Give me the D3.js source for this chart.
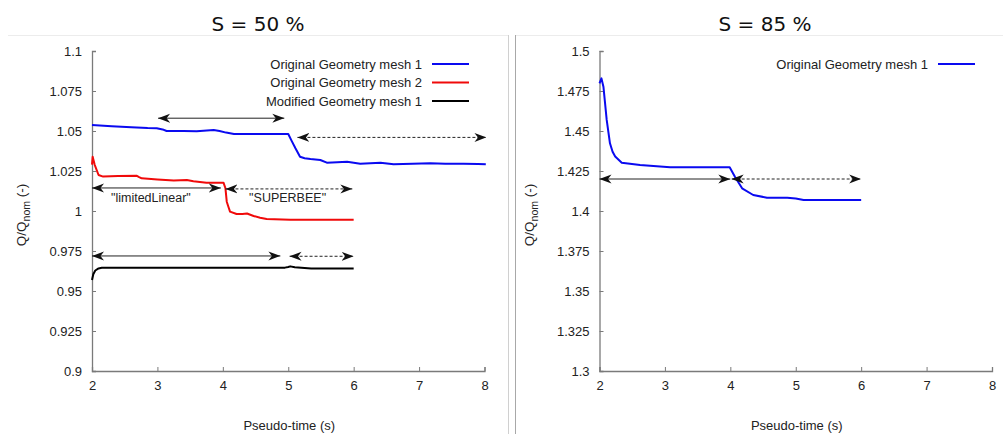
<!DOCTYPE html>
<html>
<head>
<meta charset="utf-8">
<script src="https://cdn.jsdelivr.net/npm/d3@7"></script>
<style>
  html, body { margin: 0; padding: 0; background: #fff; }
  svg { display: block; }
  text { font-family: "Liberation Sans", Arial, sans-serif; fill: #222; }
  .title { font-family: "DejaVu Sans", sans-serif; font-size: 20px; fill: #111; }
</style>
</head>
<body>
<svg id="chart" width="1003" height="434"></svg>
<script>
// ---------------- Data ----------------
const xTicks = [2, 3, 4, 5, 6, 7, 8];
const leftYTicks = [0.9, 0.925, 0.95, 0.975, 1, 1.025, 1.05, 1.075, 1.1];
const leftYTickLabels = ["0.9", "0.925", "0.95", "0.975", "1", "1.025", "1.05", "1.075", "1.1"];
const rightYTicks = [1.3, 1.325, 1.35, 1.375, 1.4, 1.425, 1.45, 1.475, 1.5];
const rightYTickLabels = ["1.3", "1.325", "1.35", "1.375", "1.4", "1.425", "1.45", "1.475", "1.5"];

const titles = ["S = 50 %", "S = 85 %"];
const seriesNames = ["Original Geometry mesh 1", "Original Geometry mesh 2", "Modified Geometry mesh 1"];
const seriesColors = ["#0a0af0", "#f00a0a", "#000000"];

// S = 50 %, Original Geometry mesh 1
const s50Mesh1X = [2.0, 2.3, 2.6, 2.85, 2.99, 3.08, 3.14, 3.4, 3.6, 3.86, 3.95, 4.05, 4.17, 4.5, 4.8, 5.0, 5.05, 5.11, 5.18, 5.25, 5.34, 5.49, 5.59, 5.75, 5.9, 6.1, 6.41, 6.61, 6.9, 7.17, 7.4, 7.68, 7.9, 8.02];
const s50Mesh1Y = [1.0538, 1.0530, 1.0523, 1.0518, 1.0517, 1.0510, 1.0500, 1.0500, 1.0499, 1.0506, 1.0500, 1.0490, 1.0481, 1.0481, 1.0481, 1.0481, 1.0440, 1.0392, 1.0339, 1.0330, 1.0325, 1.0319, 1.0302, 1.0305, 1.0308, 1.0296, 1.0302, 1.0292, 1.0296, 1.0298, 1.0295, 1.0296, 1.0294, 1.0292];
// S = 50 %, Original Geometry mesh 2
const s50Mesh2X = [2.0, 2.01, 2.04, 2.1, 2.17, 2.4, 2.68, 2.72, 2.76, 3.0, 3.25, 3.45, 3.55, 3.75, 4.01, 4.04, 4.06, 4.09, 4.11, 4.21, 4.3, 4.37, 4.47, 4.57, 4.67, 5.03, 5.5, 6.0];
const s50Mesh2Y = [1.0290, 1.0339, 1.0290, 1.0225, 1.0215, 1.0218, 1.0221, 1.0212, 1.0204, 1.0197, 1.0190, 1.0194, 1.0186, 1.0177, 1.0177, 1.0142, 1.0058, 1.0020, 0.9996, 0.9981, 0.9981, 0.9984, 0.9969, 0.9958, 0.9950, 0.9946, 0.9946, 0.9945];
// S = 50 %, Modified Geometry mesh 1
const s50ModX = [2.0, 2.02, 2.05, 2.1, 2.15, 2.2, 3.0, 4.0, 4.95, 5.0, 5.03, 5.1, 5.2, 5.35, 6.0];
const s50ModY = [0.9569, 0.9605, 0.9628, 0.9641, 0.9645, 0.9646, 0.9646, 0.9646, 0.9646, 0.9650, 0.9654, 0.9648, 0.9645, 0.9641, 0.9641];
// S = 85 %, Original Geometry mesh 1
const s85Mesh1X = [2.0, 2.03, 2.06, 2.11, 2.16, 2.2, 2.24, 2.34, 2.62, 3.08, 3.5, 3.99, 4.07, 4.18, 4.35, 4.56, 4.87, 5.0, 5.12, 5.5, 6.0];
const s85Mesh1Y = [1.4798, 1.4829, 1.4777, 1.4569, 1.4423, 1.4370, 1.4340, 1.4302, 1.4288, 1.4273, 1.4273, 1.4273, 1.4214, 1.4142, 1.4100, 1.4083, 1.4083, 1.4078, 1.4069, 1.4069, 1.4069];

// Annotation arrows (data coordinates)
const s50ArrowX1 = [3.01, 5.14, 2.0, 4.04, 2.0, 5.02];
const s50ArrowX2 = [4.94, 8.03, 3.97, 5.98, 4.88, 6.0];
const s50ArrowY  = [1.058, 1.046, 1.0144, 1.0138, 0.9719, 0.9717];
const s50ArrowDashed = [false, true, false, true, false, true];
const s85ArrowX1 = [2.0, 4.02];
const s85ArrowX2 = [4.0, 6.0];
const s85ArrowY  = [1.42, 1.42];
const s85ArrowDashed = [false, true];

const annotLabels = ['"limitedLinear"', '"SUPERBEE"'];
const annotLabelX = [2.9, 4.99];
const annotLabelY = [1.0082, 1.0082];

// ---------------- Drawing ----------------
const svg = d3.select("#chart");

const defs = svg.append("defs");
defs.append("marker")
  .attr("id", "head")
  .attr("viewBox", "0 -5 12 10")
  .attr("refX", 12).attr("refY", 0)
  .attr("markerUnits", "userSpaceOnUse")
  .attr("markerWidth", 12).attr("markerHeight", 10)
  .attr("orient", "auto-start-reverse")
  .append("path")
  .attr("d", "M0,-4.5 L12,0 L0,4.5 L3.5,0 Z")
  .attr("fill", "#111");

// frame lines
svg.append("line").attr("x1", 8).attr("x2", 508).attr("y1", 35.5).attr("y2", 35.5).attr("stroke", "#ececec");
svg.append("line").attr("x1", 515).attr("x2", 1003).attr("y1", 35.5).attr("y2", 35.5).attr("stroke", "#ececec");
svg.append("line").attr("x1", 508.5).attr("x2", 508.5).attr("y1", 35).attr("y2", 434).attr("stroke", "#d0d0d0");
svg.append("line").attr("x1", 515.5).attr("x2", 515.5).attr("y1", 35).attr("y2", 434).attr("stroke", "#a8a8a8");

function panel(cfg) {
  const x = d3.scaleLinear().domain([2, 8]).range([cfg.x0, cfg.x1]);
  const y = d3.scaleLinear().domain(cfg.yDomain).range([371, 51]);
  const g = svg.append("g");

  g.append("text").attr("class", "title")
    .attr("x", cfg.titleX).attr("y", 31).attr("text-anchor", "middle").text(cfg.title);

  const xAxis = d3.axisBottom(x).tickValues(xTicks).tickSize(-4).tickPadding(10).tickFormat(d3.format("d"));
  const gx = g.append("g").attr("transform", "translate(0,371)").call(xAxis);
  const yAxis = d3.axisLeft(y).tickValues(cfg.yTicks).tickSize(-4).tickPadding(10)
    .tickFormat((d, i) => cfg.yTickLabels[i]);
  const gy = g.append("g").attr("transform", `translate(${cfg.x0},0)`).call(yAxis);
  [gx, gy].forEach(a => {
    a.select(".domain").attr("stroke", "#7a7a7a").attr("stroke-width", 1.3);
    a.selectAll(".tick line").attr("stroke", "#7a7a7a");
    a.selectAll(".tick text").attr("font-size", 13).attr("font-family", "Liberation Sans, Arial, sans-serif").attr("fill", "#222");
  });
  gx.selectAll(".tick text").attr("dy", "0.71em");

  g.append("text").attr("x", (cfg.x0 + cfg.x1) / 2 + 1).attr("y", 430).attr("text-anchor", "middle")
    .attr("font-size", 13).text("Pseudo-time (s)");
  const yl = g.append("text").attr("transform", `translate(${cfg.x0 - 66},215) rotate(-90)`)
    .attr("text-anchor", "middle").attr("font-size", 13.5);
  yl.append("tspan").text("Q/Q");
  yl.append("tspan").attr("font-size", 10.5).attr("dy", 4).text("nom");
  yl.append("tspan").attr("dy", -4).text(" (-)");

  const line = d3.line().x(d => x(d[0])).y(d => y(d[1]));
  cfg.series.forEach(s => {
    const pts = s.xs.map((v, i) => [v, s.ys[i]]);
    g.append("path").datum(pts).attr("d", line).attr("fill", "none")
      .attr("stroke", s.color).attr("stroke-width", 2).attr("stroke-linejoin", "round");
  });

  cfg.arrows.x1.forEach((v, i) => {
    g.append("line")
      .attr("x1", x(v)).attr("x2", x(cfg.arrows.x2[i]))
      .attr("y1", y(cfg.arrows.y[i])).attr("y2", y(cfg.arrows.y[i]))
      .attr("stroke", "#222")
      .attr("stroke-width", 1)
      .attr("stroke-dasharray", cfg.arrows.dashed[i] ? "3,2" : null)
      .attr("marker-start", "url(#head)").attr("marker-end", "url(#head)");
  });

  (cfg.labels || []).forEach((t, i) => {
    g.append("text").attr("x", x(cfg.labelX[i])).attr("y", y(cfg.labelY[i]) + 4)
      .attr("text-anchor", "middle").attr("font-size", 12.5).text(t);
  });

  cfg.legend.forEach((name, i) => {
    const ly = 64 + i * 18.5;
    g.append("text").attr("x", cfg.legendX).attr("y", ly).attr("dy", "0.35em")
      .attr("text-anchor", "end").attr("font-size", 13).text(name);
    g.append("line").attr("x1", cfg.legendX + 10).attr("x2", cfg.legendX + 47)
      .attr("y1", ly).attr("y2", ly).attr("stroke", cfg.series[i].color).attr("stroke-width", 2);
  });
}

panel({
  x0: 92, x1: 484.5, yDomain: [0.9, 1.1], yTicks: leftYTicks, yTickLabels: leftYTickLabels,
  title: titles[0], titleX: 258,
  series: [
    { xs: s50Mesh1X, ys: s50Mesh1Y, color: seriesColors[0] },
    { xs: s50Mesh2X, ys: s50Mesh2Y, color: seriesColors[1] },
    { xs: s50ModX, ys: s50ModY, color: seriesColors[2] }
  ],
  arrows: { x1: s50ArrowX1, x2: s50ArrowX2, y: s50ArrowY, dashed: s50ArrowDashed },
  labels: annotLabels, labelX: annotLabelX, labelY: annotLabelY,
  legend: seriesNames, legendX: 422
});

panel({
  x0: 599.5, x1: 992, yDomain: [1.3, 1.5], yTicks: rightYTicks, yTickLabels: rightYTickLabels,
  title: titles[1], titleX: 765,
  series: [ { xs: s85Mesh1X, ys: s85Mesh1Y, color: seriesColors[0] } ],
  arrows: { x1: s85ArrowX1, x2: s85ArrowX2, y: s85ArrowY, dashed: s85ArrowDashed },
  legend: [seriesNames[0]], legendX: 928
});
</script>
</body>
</html>
